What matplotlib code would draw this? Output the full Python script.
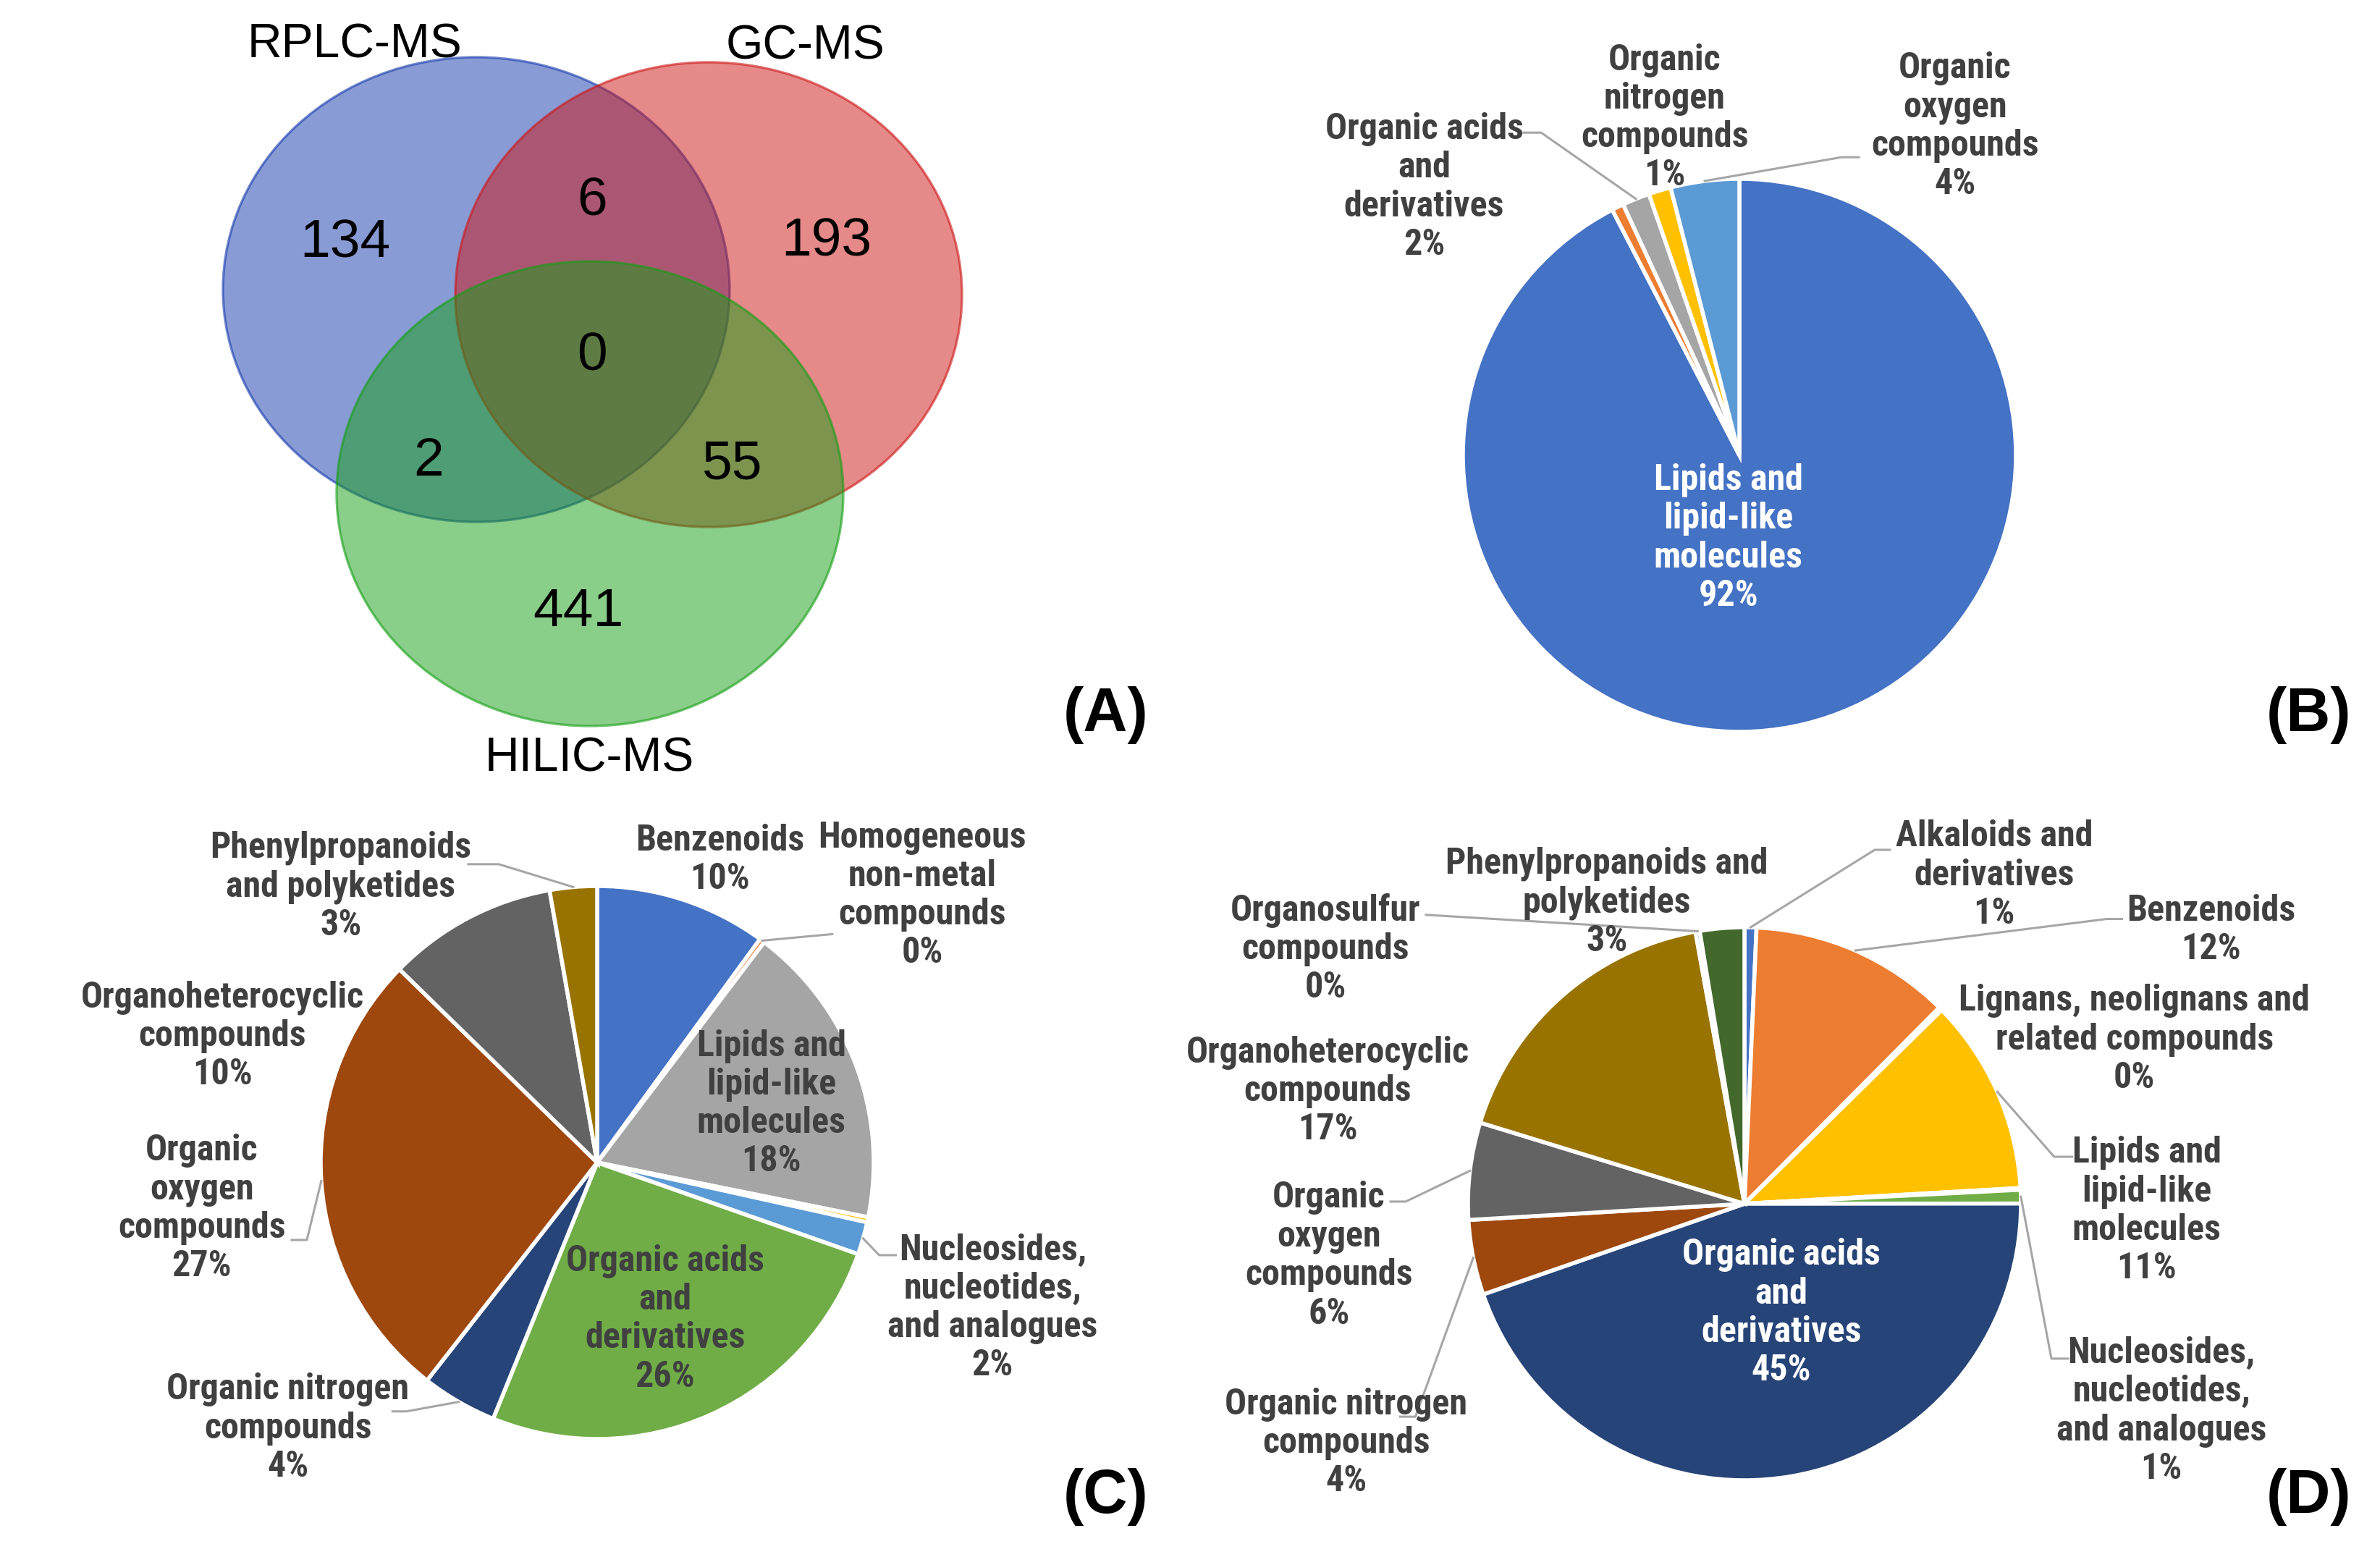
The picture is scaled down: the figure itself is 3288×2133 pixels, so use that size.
import numpy as np
import matplotlib
matplotlib.use('Agg')
import matplotlib.pyplot as plt
from matplotlib.patches import Ellipse

W, H = 3288, 2133
DPI = 100

# ---- data ----
# panel A: Venn region counts
venn_names = ['RPLC-MS', 'GC-MS', 'HILIC-MS']
venn_regions = ['100', '010', '001', '110', '101', '011', '111']
venn_counts = [134, 193, 441, 6, 2, 55, 0]

# Excel default colours, used in category order
excel_colors = ['#4472C4', '#ED7D31', '#A5A5A5', '#FFC000', '#5B9BD5', '#70AD47',
                '#264478', '#9E480E', '#636363', '#997300', '#255E91', '#43682B']

# panel B
b_labels = ['Lipids and\nlipid-like\nmolecules', '', 'Organic acids\nand\nderivatives',
            'Organic\nnitrogen\ncompounds', 'Organic\noxygen\ncompounds']
b_values = [92.3, 0.7, 1.6, 1.3, 4.0]

# panel C
c_labels = ['Benzenoids', 'Homogeneous\nnon-metal\ncompounds', 'Lipids and\nlipid-like\nmolecules', '',
            'Nucleosides,\nnucleotides,\nand analogues', 'Organic acids\nand\nderivatives',
            'Organic nitrogen\ncompounds', 'Organic\noxygen\ncompounds',
            'Organoheterocyclic\ncompounds', 'Phenylpropanoids\nand polyketides']
c_values = [10.0, 0.3, 17.8, 0.3, 1.9, 25.7, 4.4, 26.7, 9.9, 2.75]

# panel D
d_labels = ['Alkaloids and\nderivatives', 'Benzenoids', 'Lignans, neolignans and\nrelated compounds',
            'Lipids and\nlipid-like\nmolecules', '', 'Nucleosides,\nnucleotides,\nand analogues',
            'Organic acids\nand\nderivatives', 'Organic nitrogen\ncompounds', 'Organic\noxygen\ncompounds',
            'Organoheterocyclic\ncompounds', 'Organosulfur\ncompounds', 'Phenylpropanoids and\npolyketides']
d_values = [0.7, 11.8, 0.2, 11.5, 0.1, 0.8, 44.9, 4.4, 5.7, 17.5, 0.25, 2.6]

# ---- layout (pie units, radius = 1) ----
b_pos = {0: (-0.04, -0.30), 2: (-1.14, 0.97), 3: (-0.27, 1.22), 4: (0.78, 1.19)}
b_lead = {2: [(-0.78, 1.167), (-0.717, 1.167)], 4: [(0.432, 1.078), (0.369, 1.078)]}

c_pos = {0: (0.445, 1.094), 1: (1.175, 0.966), 2: (0.63, 0.212), 4: (1.43, -0.526),
         5: (0.246, -0.566), 6: (-1.118, -0.961), 7: (-1.43, -0.167), 8: (-1.355, 0.458),
         9: (-0.927, 0.997)}
c_lead = {1: [(0.85, 0.826)], 4: [(1.08, -0.335), (1.02, -0.335)],
          6: [(-0.74, -0.90), (-0.69, -0.90)], 7: [(-1.105, -0.28), (-1.05, -0.28)],
          9: [(-0.466, 1.079), (-0.356, 1.079)]}

d_pos = {0: (0.903, 1.188), 1: (1.688, 0.99), 2: (1.41, 0.594), 3: (1.455, -0.026),
         5: (1.508, -0.75), 6: (0.133, -0.395), 7: (-1.44, -0.865), 8: (-1.503, -0.188),
         9: (-1.508, 0.408), 10: (-1.516, 0.921), 11: (-0.497, 1.089)}
d_lead = {0: [(0.526, 1.28), (0.471, 1.28)], 1: [(1.365, 1.03), (1.31, 1.03)],
          3: [(1.185, 0.17), (1.12, 0.17)], 5: [(1.17, -0.56), (1.11, -0.56)],
          7: [(-1.245, -0.77), (-1.19, -0.77)], 8: [(-1.28, 0.008), (-1.225, 0.008)],
          10: [(-1.152, 1.045)]}

PIE_R = 382          # pie radius in pixels
BOX = 1000           # pie axes size in pixels
LIM = BOX / 2 / PIE_R

TXT = '#404040'
LEAD = '#A6A6A6'
PIE_FONT = ['Roboto Condensed', 'Liberation Sans', 'DejaVu Sans']
ARIAL = ['Liberation Sans', 'DejaVu Sans']

fig = plt.figure(figsize=(W / DPI, H / DPI), dpi=DPI)

# background axes in pixel coordinates for Venn and panel letters
bg = fig.add_axes([0, 0, 1, 1])
bg.set_xlim(0, W)
bg.set_ylim(H, 0)
bg.axis('off')

# ---- (A) Venn ----
venn_geo = [((658, 400), (21, 57, 173)), ((979, 407), (205, 21, 21)), ((815, 682), (21, 159, 21))]
for (xy, rgb) in venn_geo:
    c = tuple(v / 255 for v in rgb)
    bg.add_patch(Ellipse(xy, 700, 642, facecolor=c + (0.5,), edgecolor=c + (0.6,), lw=2.4))

venn_name_xy = [(490, 56), (1112, 58), (814, 1042)]
for name, (x, y) in zip(venn_names, venn_name_xy):
    bg.text(x, y + 24, name, ha='center', va='baseline', fontsize=47.5, family=ARIAL)

venn_num_xy = {'100': (477, 328), '010': (1142, 326), '001': (799, 838), '110': (818, 271),
               '101': (592, 630), '011': (1012, 635), '111': (818, 485)}
for reg, n in zip(venn_regions, venn_counts):
    x, y = venn_num_xy[reg]
    bg.text(x, y + 27, str(n), ha='center', va='baseline', fontsize=54, family=ARIAL)

for letter, (x, y) in zip(['(A)', '(B)', '(C)', '(D)'],
                          [(1528, 979), (3190, 979), (1528, 2059), (3190, 2059)]):
    bg.text(x, y + 31, letter, ha='center', va='baseline', fontsize=61,
            fontweight='bold', family=ARIAL)


def draw_pie(cx, cy, values, labels, pos, leads, white):
    ax = fig.add_axes([(cx - BOX / 2) / W, 1 - (cy + BOX / 2) / H, BOX / W, BOX / H])
    wedges, _ = ax.pie(values, colors=excel_colors[:len(values)], startangle=90,
                       counterclock=False,
                       wedgeprops=dict(edgecolor='white', linewidth=4))
    ax.set_xlim(-LIM, LIM)
    ax.set_ylim(-LIM, LIM)
    ax.set_aspect('equal')
    ax.axis('off')
    total = sum(values)
    for i, lab in enumerate(labels):
        if i not in pos:
            continue
        x, y = pos[i]
        pct = round(100 * values[i] / total)
        ax.text(x, y, f'{lab}\n{pct}%', ha='center', va='center', ma='center',
                fontsize=36, fontweight='bold', family=PIE_FONT, linespacing=1.17,
                color='white' if i in white else TXT, zorder=5)
        if i in leads:
            w = wedges[i]
            mid = np.deg2rad((w.theta1 + w.theta2) / 2)
            pts = leads[i] + [(np.cos(mid), np.sin(mid))]
            xs, ys = zip(*pts)
            ax.plot(xs, ys, color=LEAD, lw=2.2, clip_on=False, zorder=4)
    return ax


draw_pie(2403, 629, b_values, b_labels, b_pos, b_lead, white={0})
draw_pie(825, 1606, c_values, c_labels, c_pos, c_lead, white=set())
draw_pie(2410, 1663, d_values, d_labels, d_pos, d_lead, white={6})

fig.savefig('out.png', dpi=DPI)
